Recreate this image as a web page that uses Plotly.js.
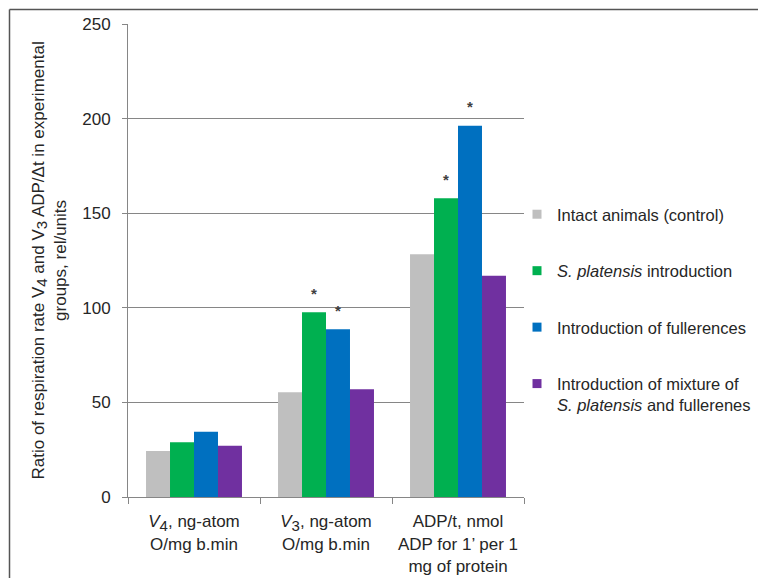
<!DOCTYPE html>
<html>
<head>
<meta charset="utf-8">
<script src="https://cdn.plot.ly/plotly-3.0.1.min.js"></script>
<style>html,body{margin:0;padding:0;background:#fff;}#chart{width:758px;height:578px;}</style>
</head>
<body>
<div id="chart"></div>
<script>
// ---- data ----
const categories = [
  "<i>V</i><sub><span style=\"font-size:15px\">4</span></sub>, ng-atom<br>O/mg b.min",
  "<i>V</i><sub><span style=\"font-size:15px\">3</span></sub>, ng-atom<br>O/mg b.min",
  "ADP/t, nmol<br>ADP for 1’ per 1<br>mg of protein"
];
const seriesNames = [
  "Intact animals (control)",
  "<i>S. platensis</i> introduction",
  "Introduction of fullerences",
  "Introduction of mixture of<br><i>S. platensis</i> and fullerenes"
];
const intactValues    = [24.3, 55.3, 128.3];
const platensisValues = [28.9, 97.7, 157.9];
const fullereneValues = [34.5, 88.6, 196.2];
const mixtureValues   = [27.1, 56.9, 117.0];
// significance markers (asterisks) per series and category
const intactSig    = [false, false, false];
const platensisSig = [false, true, true];
const fullereneSig = [false, true, true];
const mixtureSig   = [false, false, false];
const yTickValues = [0, 50, 100, 150, 200, 250];
const yTitle = "Ratio of respiration rate V<sub><span style=\"font-size:15px\">4</span></sub> and V<sub><span style=\"font-size:15px\">3</span></sub> ADP/Δt in experimental<br>groups, rel/units";

// ---- styles ----
const colors = ["#BFBFBF", "#00B050", "#0070C0", "#7030A0"];
const allValues = [intactValues, platensisValues, fullereneValues, mixtureValues];
const allSig = [intactSig, platensisSig, fullereneSig, mixtureSig];
const W = 758, H = 578;
const M = {l: 128, r: 234, t: 24, b: 81, autoexpand: false};
const plotW = W - M.l - M.r, plotH = H - M.t - M.b;
const bargap = 0.273;
const catPx = plotW / categories.length;
const barPx = catPx * (1 - bargap) / allValues.length;
const textColor = "#262626";
const FAM = "Liberation Sans, Arial, sans-serif";
const font = {family: FAM, size: 17, color: textColor};
const legendFont = {family: FAM, size: 16.5, color: textColor};

const traces = [];
allValues.forEach((vals, i) => {
  traces.push({
    type: "bar", x: categories, y: vals, name: seriesNames[i],
    marker: {color: colors[i]}, showlegend: false, hoverinfo: "y"
  });
});
// legend entries (small squares)
allValues.forEach((vals, i) => {
  traces.push({
    type: "scatter", mode: "markers", x: [null], y: [null], name: seriesNames[i],
    legendgroup: "g" + i,
    marker: {symbol: "square", size: 9, color: colors[i]}
  });
});

const annotations = [];
allSig.forEach((sig, i) => {
  sig.forEach((s, j) => {
    if (!s) return;
    annotations.push({
      x: categories[j], y: allValues[i][j], xref: "x", yref: "y",
      text: "<b>*</b>", showarrow: false, yanchor: "middle",
      xshift: (i - (allValues.length - 1) / 2) * barPx, yshift: 19,
      font: {family: FAM, size: 15, color: "#404040"}
    });
  });
});
annotations.push({
  xref: "paper", yref: "paper", x: 0, y: 0.5, xshift: -79,
  xanchor: "center", yanchor: "middle", textangle: -90, showarrow: false,
  text: yTitle, font: font
});

const px2x = p => (p - M.l) / plotW;
const py2y = p => (H - M.b - p) / plotH;
const shapes = [
  {type: "line", xref: "paper", yref: "paper", x0: px2x(9.5), x1: px2x(W), y0: py2y(9.5), y1: py2y(9.5), line: {color: "#555", width: 1.5}},
  {type: "line", xref: "paper", yref: "paper", x0: px2x(9.5), x1: px2x(9.5), y0: py2y(9.5), y1: py2y(H), line: {color: "#555", width: 1.5}}
];

const layout = {
  width: W, height: H, margin: M,
  paper_bgcolor: "#fff", plot_bgcolor: "#fff",
  font: font,
  barmode: "group", bargap: bargap, bargroupgap: 0,
  showlegend: true,
  legend: {
    x: px2x(517), xanchor: "left", y: py2y(197), yanchor: "top",
    traceorder: "grouped", tracegroupgap: 32, valign: "top",
    font: legendFont, bgcolor: "rgba(0,0,0,0)"
  },
  xaxis: {
    type: "category", tickson: "boundaries", ticks: "outside", ticklen: 6,
    tickcolor: "#868686", showline: true, linecolor: "#868686", linewidth: 1,
    showgrid: false, tickfont: font, fixedrange: true, ticklabelstandoff: 9,
    tickangle: 0
  },
  yaxis: {
    range: [0, 250], tickvals: yTickValues, ticktext: yTickValues.map(String),
    ticks: "outside", ticklen: 5, tickcolor: "#868686",
    showline: true, linecolor: "#868686", linewidth: 1,
    showgrid: false, zeroline: false, tickfont: font, fixedrange: true,
    ticklabelstandoff: 8
  },
  yaxis2: {
    overlaying: "y", range: [0, 250], tickvals: yTickValues.slice(1, -1),
    showticklabels: false, ticks: "", showgrid: true, gridcolor: "#868686", gridwidth: 1,
    zeroline: false, showline: false, fixedrange: true
  },
  annotations: annotations,
  shapes: shapes
};
traces.push({type: "scatter", x: [null], y: [null], yaxis: "y2", showlegend: false, hoverinfo: "skip"});

Plotly.newPlot("chart", traces, layout, {displayModeBar: false});
</script>
</body>
</html>
